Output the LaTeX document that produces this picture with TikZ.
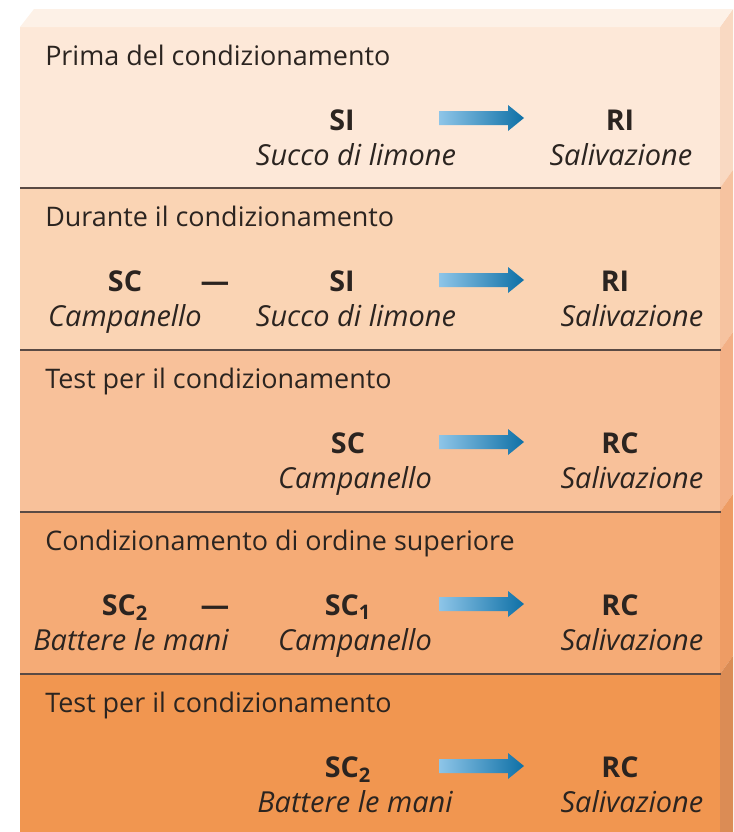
\documentclass[tikz,border=0pt]{standalone}
\usepackage{fontspec}
\setmainfont{Open Sans}
\usetikzlibrary{positioning}
\definecolor{bandA}{HTML}{FDE8D8}
\definecolor{bandB}{HTML}{FAD4B4}
\definecolor{bandC}{HTML}{F8C19A}
\definecolor{bandD}{HTML}{F5AB76}
\definecolor{bandE}{HTML}{F19650}
\definecolor{sideA}{HTML}{F9D9C2}
\definecolor{sideB}{HTML}{F6C3A0}
\definecolor{sideC}{HTML}{F3B086}
\definecolor{sideD}{HTML}{EE9C64}
\definecolor{sideE}{HTML}{DB8C55}
\definecolor{topface}{HTML}{FDF1E7}
\definecolor{rule}{HTML}{5A4A44}
\definecolor{ink}{HTML}{2B2420}
\definecolor{arrowL}{HTML}{8EC5E8}
\definecolor{arrowR}{HTML}{0E70A6}
\tikzset{
    phase/.style={
           anchor=base west,
           inner sep=0pt,
           text=ink,
           font=\fontsize{20.2}{22}\selectfont,
           },
    term/.style={
           anchor=base,
           inner sep=0pt,
           text=ink,
           font=\fontsize{21.5}{22}\selectfont\bfseries,
           },
    gloss/.style={
           anchor=base,
           inner sep=0pt,
           text=ink,
           font=\fontsize{21.7}{22}\selectfont\itshape,
           },
    divider/.style={draw=rule, line width=1.5pt},
}

\begin{document}
\begin{tikzpicture}[x=0.75pt,y=-0.75pt]

  \useasboundingbox (0,0) rectangle (733,832);

  % bands
  \foreach \t/\b/\c/\s in {27/188/bandA/sideA, 188/350/bandB/sideB,
                           350/512/bandC/sideC, 512/674/bandD/sideD,
                           674/850/bandE/sideE}{
    \fill[\c] (20,\t) rectangle (720,\b);
    \fill[\s] (720,\b) -- (720,\t) -- (733,\t-18) -- (733,\b-18) -- cycle;
  }
  \fill[topface] (20,27) -- (34,9) -- (733,9) -- (720,27) -- cycle;
  \foreach \y in {188,350,512,674}
    \draw[divider] (20,\y) -- (721,\y);

  % arrows
  \foreach \y in {118,280,442,604,766}
    \shade[left color=arrowL, right color=arrowR]
      (439,\y-7) -- (508,\y-7) -- (508,\y-13) -- (524,\y)
      -- (508,\y+13) -- (508,\y+7) -- (439,\y+7) -- cycle;

  % Prima del condizionamento
  \node[phase] (p1)  at (45,65)   {Prima del condizionamento};
  \node[term]  (si1) at (342,130) {SI};
  \node[gloss] (sl1) at (356,165) {Succo di limone};
  \node[term]  (ri1) at (620,130) {RI};
  \node[gloss] (sv1) at (621,165) {Salivazione};

  % Durante il condizionamento
  \node[phase] (p2)  at (45,226)  {Durante il condizionamento};
  \node[term]  (sc2) at (125,291) {SC};
  \node[gloss] (cp2) at (125,326) {Campanello};
  \node[term]  (d2)  at (215,291) {—};
  \node[term]  (si2) at (342,291) {SI};
  \node[gloss] (sl2) at (356,326) {Succo di limone};
  \node[term]  (ri2) at (615,291) {RI};
  \node[gloss] (sv2) at (632,326) {Salivazione};

  % Test per il condizionamento
  \node[phase] (p3)  at (45,388)  {Test per il condizionamento};
  \node[term]  (sc3) at (348,453) {SC};
  \node[gloss] (cp3) at (355,488) {Campanello};
  \node[term]  (rc3) at (620,453) {RC};
  \node[gloss] (sv3) at (632,488) {Salivazione};

  % Condizionamento di ordine superiore
  \node[phase] (p4)  at (45,550)  {Condizionamento di ordine superiore};
  \node[term]  (sc4) at (125,615) {SC\textsubscript{2}};
  \node[gloss] (bm4) at (131,650) {Battere le mani};
  \node[term]  (d4)  at (215,615) {—};
  \node[term]  (so4) at (348,615) {SC\textsubscript{1}};
  \node[gloss] (cp4) at (355,650) {Campanello};
  \node[term]  (rc4) at (620,615) {RC};
  \node[gloss] (sv4) at (632,650) {Salivazione};

  % Test per il condizionamento
  \node[phase] (p5)  at (45,712)  {Test per il condizionamento};
  \node[term]  (sc5) at (348,777) {SC\textsubscript{2}};
  \node[gloss] (bm5) at (355,812) {Battere le mani};
  \node[term]  (rc5) at (620,777) {RC};
  \node[gloss] (sv5) at (632,812) {Salivazione};

\end{tikzpicture}
\end{document}
